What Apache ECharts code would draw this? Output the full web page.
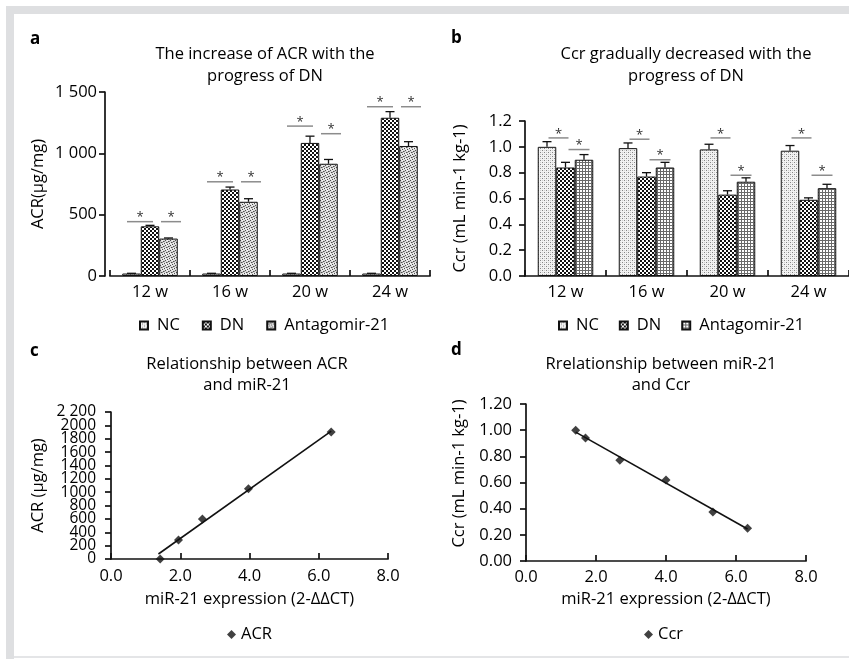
<!DOCTYPE html>
<html><head><meta charset="utf-8">
<script src="https://cdn.jsdelivr.net/npm/echarts@6/dist/echarts.min.js"></script>
<style>html,body{margin:0;padding:0;background:#fff}#c{width:849px;height:659px}</style>
</head><body><div id="c"></div>
<script>
// ---------- data ----------
const categories = ['12 w', '16 w', '20 w', '24 w'];
const groupNames = ['NC', 'DN', 'Antagomir-21'];
// Panel a: ACR (μg/mg)
const acrNC = [20, 20, 20, 20];
const acrDN = [405, 705, 1085, 1290];
const acrAnt = [305, 605, 915, 1060];
const acrNCErr = [2, 2, 2, 2];
const acrDNErr = [8, 20, 55, 50];
const acrAntErr = [5, 25, 35, 35];
const acrSigNCvsDN = [443, 768, 1222, 1380];
const acrSigDNvsAnt = [443, 768, 1160, 1380];
// Panel b: Ccr (mL min-1 kg-1)
const ccrNC = [1.00, 0.99, 0.98, 0.97];
const ccrDN = [0.84, 0.77, 0.63, 0.59];
const ccrAnt = [0.90, 0.84, 0.73, 0.68];
const ccrNCErr = [0.04, 0.04, 0.04, 0.04];
const ccrDNErr = [0.04, 0.03, 0.03, 0.015];
const ccrAntErr = [0.04, 0.04, 0.03, 0.03];
const ccrSigNCvsDN = [1.069, 1.059, 1.069, 1.069];
const ccrSigDNvsAnt = [0.979, 0.90, 0.78, 0.78];
// Panel c: ACR vs miR-21
const mirC = [1.42, 1.95, 2.64, 3.97, 6.36];
const acrC = [0, 285, 600, 1050, 1900];
const fitC = [[1.37, 75], [6.36, 1915]];
// Panel d: Ccr vs miR-21
const mirD = [1.42, 1.70, 2.68, 4.00, 5.34, 6.33];
const ccrD = [1.00, 0.94, 0.77, 0.62, 0.375, 0.25];
const fitD = [[1.42, 0.985], [6.33, 0.245]];
// tick labels
const yTicksA = ['0', '500', '1 000', '1 500'];
const yTicksB = ['0.0', '0.2', '0.4', '0.6', '0.8', '1.0', '1.2'];
const yTicksC = ['0', '200', '400', '600', '800', '1000', '1200', '1400', '1600', '1800', '2000', '2 200'];
const yTicksD = ['0.00', '0.20', '0.40', '0.60', '0.80', '1.00', '1.20'];
const xTicksCD = ['0.0', '2.0', '4.0', '6.0', '8.0'];

// ---------- styles ----------
const FONT = '"Open Sans", "Noto Sans", sans-serif';
const FS = 16.5;
const TXT = '#000';
const BAR_W = 18.5;
function pat(size, draw) {
  const c = document.createElement('canvas');
  c.width = c.height = size;
  const g = c.getContext('2d');
  draw(g);
  return { image: c, repeat: 'repeat' };
}
function dots(g, list, col) { g.fillStyle = col; list.forEach(p => g.fillRect(p[0], p[1], 1, 1)); }
const patNC = pat(4, g => { g.fillStyle = '#f2f2f2'; g.fillRect(0,0,4,4); dots(g, [[0,0],[2,2]], '#858585'); dots(g, [[2,0],[0,2]], '#cfcfcf'); });
const patDN = pat(4, g => { g.fillStyle = '#fff'; g.fillRect(0,0,4,4); g.fillStyle = '#111'; g.fillRect(0,0,2,2); g.fillRect(2,2,2,2); });
const patAntA = pat(5, g => { g.fillStyle = '#dadada'; g.fillRect(0,0,5,5);
  dots(g, [[0,0],[3,1],[1,2],[4,3],[2,4]], '#4e4e4e'); dots(g, [[2,0],[0,3],[3,3],[1,4]], '#f4f4f4'); dots(g, [[4,1],[2,2]], '#8a8a8a'); });
const patAntB = pat(3, g => { g.fillStyle = '#fff'; g.fillRect(0,0,3,3); g.fillStyle = '#6a6a6a'; g.fillRect(0,0,3,1); g.fillRect(0,0,1,3); });

const axisLine = { show: true, lineStyle: { color: '#111', width: 1.7 } };
const labelStyle = { color: TXT, fontFamily: FONT, fontSize: FS };
const tickStyle = { color: '#111', width: 1.7 };

function barSeries(name, data, fill, xi) {
  return { type: 'bar', name: name, data: data, xAxisIndex: xi, yAxisIndex: xi,
    barWidth: BAR_W, barGap: '0%', itemStyle: { color: fill, borderColor: '#111', borderWidth: 1 },
    emphasis: { disabled: true }, z: 2 };
}
function errData(vals, errs) {
  const out = [];
  for (let i = 0; i < categories.length; i++) for (let g = 0; g < vals.length; g++) out.push([i, g, vals[g][i], errs[g][i]]);
  return out;
}
function errSeries(xi, vals, errs) {
  return { type: 'custom', xAxisIndex: xi, yAxisIndex: xi, z: 5, silent: true,
    data: errData(vals, errs), encode: { x: 0, y: 2 },
    renderItem: function (params, api) {
      const cat = api.value(0), g = api.value(1), v = api.value(2), e = api.value(3);
      const p = api.coord([cat, v]), p2 = api.coord([cat, v + e]);
      const x = p[0] + (g - 1) * BAR_W;
      const st = { stroke: '#111', lineWidth: 1.3 };
      return { type: 'group', children: [
        { type: 'line', shape: { x1: x, y1: p[1], x2: x, y2: p2[1] }, style: st },
        { type: 'line', shape: { x1: x - 4.5, y1: p2[1], x2: x + 4.5, y2: p2[1] }, style: st }
      ] };
    } };
}
function sigSeries(xi, levels1, levels2, span1, span2) {
  const data = [];
  for (let i = 0; i < categories.length; i++) { data.push([i, levels1[i], 0]); data.push([i, levels2[i], 1]); }
  return { type: 'custom', xAxisIndex: xi, yAxisIndex: xi, z: 5, silent: true, data: data, encode: { x: 0, y: 1 },
    renderItem: function (params, api) {
      const p = api.coord([api.value(0), api.value(1)]);
      const sp = api.value(2) === 0 ? span1 : span2;
      const x1 = p[0] + sp[0], x2 = p[0] + sp[1];
      return { type: 'group', children: [
        { type: 'line', shape: { x1: x1, y1: p[1], x2: x2, y2: p[1] }, style: { stroke: '#8c8c8c', lineWidth: 1.5 } },
        { type: 'text', style: { text: '*', x: (x1 + x2) / 2, y: p[1] - 4, textAlign: 'center', textVerticalAlign: 'middle', font: '13px ' + FONT, fill: '#333' } }
      ] };
    } };
}
function yName(text, gap, pad) { return { name: text, nameLocation: 'middle', nameGap: gap, nameTextStyle: Object.assign({ padding: pad || 0 }, labelStyle) }; }
const lastC = yTicksC.length - 1;

const chart = echarts.init(document.getElementById('c'), null, { renderer: 'canvas' });
const option = {
  animation: false,
  backgroundColor: '#fff',
  textStyle: { fontFamily: FONT },
  grid: [
    { left: 110, top: 92, width: 320, height: 184 },
    { left: 525, top: 121, width: 331, height: 155 },
    { left: 111, top: 412, width: 277, height: 147 },
    { left: 526, top: 404, width: 280, height: 157 }
  ],
  xAxis: [
    { type: 'category', gridIndex: 0, data: categories, axisLine: axisLine,
      axisTick: { show: true, inside: true, length: 6, interval: 0, lineStyle: tickStyle },
      axisLabel: Object.assign({ margin: 8, interval: 0 }, labelStyle) },
    { type: 'category', gridIndex: 1, data: categories, axisLine: axisLine,
      axisTick: { show: true, inside: true, length: 6, interval: 0, lineStyle: tickStyle },
      axisLabel: Object.assign({ margin: 8, interval: 0 }, labelStyle) },
    Object.assign({ type: 'value', gridIndex: 2, min: 0, max: 8, interval: 2, axisLine: axisLine, splitLine: { show: false },
      axisTick: { show: true, inside: true, length: 6, lineStyle: tickStyle },
      axisLabel: Object.assign({ margin: 9, showMinLabel: true, showMaxLabel: true, formatter: (v, i) => xTicksCD[i] }, labelStyle) },
      yName('miR-21 expression (2-ΔΔCT)', 32)),
    Object.assign({ type: 'value', gridIndex: 3, min: 0, max: 8, interval: 2, axisLine: axisLine, splitLine: { show: false },
      axisTick: { show: true, inside: true, length: 6, lineStyle: tickStyle },
      axisLabel: Object.assign({ margin: 8, showMinLabel: true, showMaxLabel: true, formatter: (v, i) => xTicksCD[i] }, labelStyle) },
      yName('miR-21 expression (2-ΔΔCT)', 30))
  ],
  yAxis: [
    Object.assign({ type: 'value', gridIndex: 0, min: 0, max: 1500, interval: 500, offset: 5, axisLine: axisLine, splitLine: { show: false },
      axisTick: { show: true, length: 6, lineStyle: tickStyle },
      axisLabel: Object.assign({ margin: 8, showMinLabel: true, showMaxLabel: true, formatter: (v, i) => yTicksA[i] }, labelStyle) },
      yName('ACR(μg/mg)', 58)),
    Object.assign({ type: 'value', gridIndex: 1, min: 0, max: 1.2, interval: 0.2, axisLine: axisLine, splitLine: { show: false },
      axisTick: { show: true, length: 6, lineStyle: tickStyle },
      axisLabel: Object.assign({ margin: 13, showMinLabel: true, showMaxLabel: true, formatter: (v, i) => yTicksB[i] }, labelStyle) },
      yName('Ccr (mL min-1 kg-1)', 56)),
    Object.assign({ type: 'value', gridIndex: 2, min: 0, max: 2200, interval: 200, position: 'left', axisLine: axisLine, splitLine: { show: false },
      axisTick: { show: true, length: 6, lineStyle: tickStyle },
      axisLabel: Object.assign({}, labelStyle, { margin: 15, fontSize: 15.5, formatter: (v, i) => (i === 0 || i === lastC) ? '' : yTicksC[i] }) },
      yName('ACR (μg/mg)', 64)),
    Object.assign({ type: 'value', gridIndex: 3, min: 0, max: 1.2, interval: 0.2, axisLine: axisLine, splitLine: { show: false },
      axisTick: { show: true, length: 6, lineStyle: tickStyle },
      axisLabel: Object.assign({ margin: 14, showMinLabel: true, showMaxLabel: true, formatter: (v, i) => yTicksD[i] }, labelStyle) },
      yName('Ccr (mL min-1 kg-1)', 58, [0, 0, 0, 18])),
    // companion axis for panel c: only the end labels (avoids the auto-hiding of crowded end labels)
    { type: 'value', gridIndex: 2, min: 0, max: 2200, interval: 200, position: 'left', offset: 0,
      axisLine: { show: false }, axisTick: { show: false }, splitLine: { show: false },
      axisLabel: Object.assign({}, labelStyle, { margin: 15, fontSize: 15.5, showMinLabel: true, showMaxLabel: true,
        formatter: (v, i) => (i === 0 || i === lastC) ? yTicksC[i] : '' }) }
  ],
  legend: [
    { left: 134, top: 312, itemWidth: 8, itemHeight: 8, itemGap: 22, icon: 'rect', selectedMode: false,
      data: ['a:NC', 'a:DN', 'a:Antagomir-21'], formatter: n => n.split(':')[1],
      textStyle: { color: TXT, fontFamily: FONT, fontSize: FS, padding: [0, 0, 0, 4] } },
    { left: 553, top: 312, itemWidth: 8, itemHeight: 8, itemGap: 20, icon: 'rect', selectedMode: false,
      data: ['b:NC', 'b:DN', 'b:Antagomir-21'], formatter: n => n.split(':')[1],
      textStyle: { color: TXT, fontFamily: FONT, fontSize: FS, padding: [0, 0, 0, 4] } },
    { left: 222, top: 621, itemWidth: 9, itemHeight: 9, icon: 'diamond', selectedMode: false, data: ['ACR'],
      textStyle: { color: TXT, fontFamily: FONT, fontSize: FS } },
    { left: 639, top: 621, itemWidth: 9, itemHeight: 9, icon: 'diamond', selectedMode: false, data: ['Ccr'],
      textStyle: { color: TXT, fontFamily: FONT, fontSize: FS } }
  ],
  series: [
    barSeries('a:NC', acrNC, patNC, 0),
    barSeries('a:DN', acrDN, patDN, 0),
    barSeries('a:Antagomir-21', acrAnt, patAntA, 0),
    errSeries(0, [acrNC, acrDN, acrAnt], [acrNCErr, acrDNErr, acrAntErr]),
    sigSeries(0, acrSigNCvsDN, acrSigDNvsAnt, [-23, 3], [11, 31]),
    barSeries('b:NC', ccrNC, patNC, 1),
    barSeries('b:DN', ccrDN, patDN, 1),
    barSeries('b:Antagomir-21', ccrAnt, patAntB, 1),
    errSeries(1, [ccrNC, ccrDN, ccrAnt], [ccrNCErr, ccrDNErr, ccrAntErr]),
    sigSeries(1, ccrSigNCvsDN, ccrSigDNvsAnt, [-17, 3], [3, 24]),
    { type: 'line', name: 'fitC', xAxisIndex: 2, yAxisIndex: 2, data: fitC, symbol: 'none',
      lineStyle: { color: '#111', width: 1.6 }, silent: true, z: 3 },
    { type: 'scatter', name: 'ACR', xAxisIndex: 2, yAxisIndex: 2, data: mirC.map((x, i) => [x, acrC[i]]),
      symbol: 'diamond', symbolSize: 9, itemStyle: { color: '#111' }, z: 4 },
    { type: 'line', name: 'fitD', xAxisIndex: 3, yAxisIndex: 3, data: fitD, symbol: 'none',
      lineStyle: { color: '#111', width: 1.6 }, silent: true, z: 3 },
    { type: 'scatter', name: 'Ccr', xAxisIndex: 3, yAxisIndex: 3, data: mirD.map((x, i) => [x, ccrD[i]]),
      symbol: 'diamond', symbolSize: 9, itemStyle: { color: '#111' }, z: 4 }
  ],
  graphic: [
    { type: 'rect', shape: { x: 6, y: 6, width: 843, height: 8 }, style: { fill: '#dedfe1' }, silent: true },
    { type: 'rect', shape: { x: 6, y: 6, width: 8, height: 653 }, style: { fill: '#dedfe1' }, silent: true },
    { type: 'rect', shape: { x: 14, y: 656, width: 835, height: 2 }, style: { fill: '#e4e5e7' }, silent: true },
    { type: 'text', style: { text: 'a', x: 30, y: 39, textVerticalAlign: 'middle', font: 'bold 17px ' + FONT, fill: TXT } },
    { type: 'text', style: { text: 'b', x: 451, y: 38, textVerticalAlign: 'middle', font: 'bold 17px ' + FONT, fill: TXT } },
    { type: 'text', style: { text: 'c', x: 30, y: 351, textVerticalAlign: 'middle', font: 'bold 17px ' + FONT, fill: TXT } },
    { type: 'text', style: { text: 'd', x: 451, y: 350, textVerticalAlign: 'middle', font: 'bold 17px ' + FONT, fill: TXT } },
    { type: 'text', style: { text: 'The increase of ACR with the\nprogress of DN', x: 265, y: 65, textAlign: 'center', textVerticalAlign: 'middle', lineHeight: 22, font: FS + 'px ' + FONT, fill: TXT } },
    { type: 'text', style: { text: 'Ccr gradually decreased with the\nprogress of DN', x: 686, y: 65, textAlign: 'center', textVerticalAlign: 'middle', lineHeight: 22, font: FS + 'px ' + FONT, fill: TXT } },
    { type: 'text', style: { text: 'Relationship between ACR\nand miR-21', x: 247, y: 375, textAlign: 'center', textVerticalAlign: 'middle', lineHeight: 21, font: FS + 'px ' + FONT, fill: TXT } },
    { type: 'text', style: { text: 'Rrelationship between miR-21\nand Ccr', x: 661, y: 375, textAlign: 'center', textVerticalAlign: 'middle', lineHeight: 21, font: FS + 'px ' + FONT, fill: TXT } }
  ]
};
chart.setOption(option);
</script>
</body></html>
